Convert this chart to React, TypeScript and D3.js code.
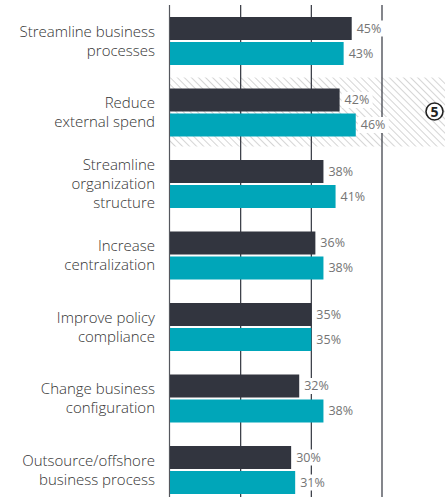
import React from 'react';
import * as d3 from 'd3';

// Data
const categories = [
  'Streamline business processes',
  'Reduce external spend',
  'Streamline organization structure',
  'Increase centralization',
  'Improve policy compliance',
  'Change business configuration',
  'Outsource/offshore business process',
];
const labelLines = [
  ['Streamline business', 'processes'],
  ['Reduce', 'external spend'],
  ['Streamline', 'organization', 'structure'],
  ['Increase', 'centralization'],
  ['Improve policy', 'compliance'],
  ['Change business', 'configuration'],
  ['Outsource/offshore', 'business process'],
];
const seriesKeys = ['series1', 'series2'];
const series1 = [45, 42, 38, 36, 35, 32, 30];
const series2 = [43, 46, 41, 38, 35, 38, 31];
const gridTicks = [0, 17.5, 35, 52.5];
const highlighted = 'Reduce external spend';
const highlightNote = '5';

const colors: Record<string, string> = { series1: '#32353f', series2: '#00a6b9' };
const font = '"Open Sans", "Noto Sans", sans-serif';

const W = 445;
const H = 497;

export default function App() {
  const xScale = d3.scaleLinear().domain([0, 52.5]).range([170, 382]);

  const yScale = d3
    .scaleBand<string>()
    .domain(categories)
    .range([17, 494])
    .paddingInner(0.3287)
    .paddingOuter(0);

  const inner = d3
    .scaleBand<string>()
    .domain(seriesKeys)
    .range([0, yScale.bandwidth()])
    .paddingInner(0.08);

  const values: Record<string, number[]> = { series1, series2 };
  const x0 = xScale(0);
  const hy = yScale(highlighted) as number;

  return (
    <svg
      width={W}
      height={H}
      style={{ position: 'absolute', left: 0, top: 0, background: '#fff' }}
      fontFamily={font}
    >
      <defs>
        <pattern id="hatch" width="5" height="5" patternUnits="userSpaceOnUse" patternTransform="rotate(-45)">
          <line x1="0" y1="0" x2="0" y2="5" stroke="#ababab" strokeWidth="1" />
        </pattern>
      </defs>

      {/* highlighted band */}
      <rect x={x0} y={hy - 11} width={W - x0} height={yScale.bandwidth() + 21} fill="url(#hatch)" />

      {/* grid */}
      {gridTicks.map((t, i) => (
        <line
          key={t}
          x1={xScale(t) - (i === 0 ? 0.5 : 0)}
          x2={xScale(t) - (i === 0 ? 0.5 : 0)}
          y1={5}
          y2={H}
          stroke={i === 0 ? '#55575e' : '#32353f'}
          strokeWidth={1.2}
        />
      ))}

      {/* bars */}
      {categories.map((c, ci) => (
        <g key={c} transform={`translate(0,${yScale(c)})`}>
          {seriesKeys.map((k) => {
            const v = values[k][ci];
            const y = inner(k) as number;
            const xe = xScale(v);
            return (
              <g key={k}>
                <rect x={x0} y={y} width={xe - x0} height={inner.bandwidth()} fill={colors[k]} />
                <rect x={xe + 2} y={y + inner.bandwidth() / 2 - 8} width={31} height={16} fill="#fff" />
                <text
                  x={xe + 5}
                  y={y + inner.bandwidth() / 2}
                  dy="0.35em"
                  fontSize={12.5}
                  fill="#747474"
                >
                  {v}%
                </text>
              </g>
            );
          })}
        </g>
      ))}

      {/* category labels */}
      {categories.map((c, ci) => {
        const lines = labelLines[ci];
        const cy = (yScale(c) as number) + yScale.bandwidth() / 2;
        return (
          <text key={c} textAnchor="end" fontSize={15} fontWeight={300} fill="#333">
            {lines.map((l, li) => (
              <tspan key={li} x={155} y={cy + (li - (lines.length - 1) / 2) * 19} dy="0.35em">
                {l}
              </tspan>
            ))}
          </text>
        );
      })}

      {/* note marker */}
      <circle cx={434.5} cy={hy + yScale.bandwidth() / 2 - 1} r={8.5} fill="#fff" stroke="#222" strokeWidth={1.6} />
      <text
        x={434.5}
        y={hy + yScale.bandwidth() / 2 - 1}
        dy="0.36em"
        textAnchor="middle"
        fontSize={14}
        fontWeight={700}
        fill="#222"
      >
        {highlightNote}
      </text>
    </svg>
  );
}
